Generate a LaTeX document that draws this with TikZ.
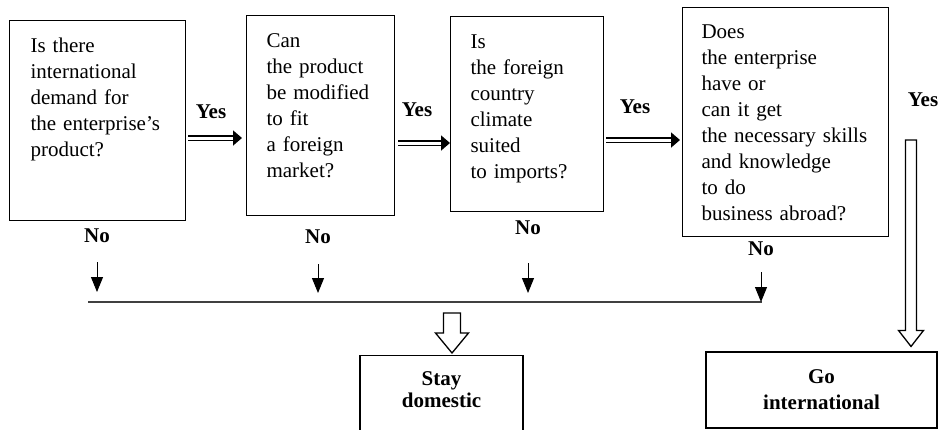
\documentclass[tikz,border=0pt]{standalone}
\usepackage{fontspec}
\setmainfont{Liberation Serif}
\usetikzlibrary{arrows.meta,calc,positioning}

\newcommand{\qsize}{\fontsize{21}{26}\selectfont}
% hollow block arrow: top point, tip point, shaft half width, head half width, head length
\newcommand{\hollowarrow}[5]{%
  \draw[line width=1.3pt, fill=white, line join=miter] let \p1=(#1), \p2=(#2) in
    (\x2-#3,\y1) -- (\x2+#3,\y1) -- (\x2+#3,\y2+#5) -- (\x2+#4,\y2+#5) -- (\x2,\y2)
    -- (\x2-#4,\y2+#5) -- (\x2-#3,\y2+#5) -- cycle;}

\begin{document}
\begin{tikzpicture}[
        x=1pt, y=-1pt,
        every node/.style={font=\qsize},
        qbox/.style={draw, line width=1.1pt, anchor=north west, align=left, inner ysep=0pt},
        endbox/.style={draw, line width=1.1pt, align=center},
        lbl/.style={font=\qsize\bfseries, inner sep=0pt},
        yesarrow/.style={double, double distance=3pt, line width=1.7pt, -{Triangle[length=9pt, width=15pt]}},
        noarrow/.style={line width=1pt, -{Triangle[length=15pt, width=12pt]}},
        bar/.style={line width=1.5pt, black!75},
    ]
        \useasboundingbox (0,0) rectangle (941,429);
        \clip (0,0) rectangle (941,429);

        % --- Questions ---
        \node[qbox, inner xsep=21pt, text width=134pt, text height=32pt, text depth=168pt] (demand) at (9,20)
            {Is there\\international\\demand for\\the enterprise’s\\product?};
        \node[qbox, inner xsep=20pt, text width=108pt, text height=32pt, text depth=168pt] (modify) at (246,15)
            {Can\\the product\\be modified\\to fit\\a foreign\\market?};
        \node[qbox, inner xsep=20pt, text width=113pt, text height=32pt, text depth=163pt] (climate) at (450,16)
            {Is\\the foreign\\country\\climate\\suited\\to imports?};
        \node[qbox, inner xsep=19pt, text width=168pt, text height=31pt, text depth=198pt] (skills) at (682,7)
            {Does\\the enterprise\\have or\\can it get\\the necessary skills\\and knowledge\\to do\\business abroad?};

        % --- Outcomes ---
        \node[endbox, anchor=north, minimum width=163pt, inner ysep=0pt, text height=52pt, text depth=48pt,
              font=\fontsize{21}{22}\selectfont\bfseries] (stay) at (441.5,355) {Stay\\domestic};
        \node[endbox, minimum width=231pt, minimum height=76pt,
              font=\fontsize{21}{26}\selectfont\bfseries] (go) at (821.5,390) {Go\\international};

        % --- Labels ---
        \node[lbl] (yesA) at (211,112) {Yes};
        \node[lbl] (yesB) at (417,110) {Yes};
        \node[lbl] (yesC) at (635,107) {Yes};
        \node[lbl] (yesD) at (923,100) {Yes};
        \node[lbl] (noA) at (97,236) {No};
        \node[lbl] (noB) at (318,237) {No};
        \node[lbl] (noC) at (528,228) {No};
        \node[lbl] (noD) at (761,249) {No};

        % --- Yes path ---
        \draw[yesarrow] ([xshift=2pt]demand.east |- 0,138) -- ([xshift=-4pt]modify.west |- 0,138);
        \draw[yesarrow] ([xshift=3pt]modify.east |- 0,143) -- (climate.west |- 0,143);
        \draw[yesarrow] ([xshift=2pt]climate.east |- 0,140) -- ([xshift=-2pt]skills.west |- 0,140);
        \coordinate (golink) at (911,140);
        \hollowarrow{golink}{$(golink |- go.north)+(0,-5)$}{5.5pt}{12.5pt}{16pt}

        % --- No path ---
        \coordinate (barL) at (88,302);
        \coordinate (barR) at (762,302);
        \draw[bar] (barL) -- (barR);
        \draw[noarrow] ([yshift=-19pt]noA.south) -- ([yshift=10pt]noA.south |- barL);
        \draw[noarrow] ([yshift=-20pt]noB.south) -- ([yshift=9pt]noB.south |- barL);
        \draw[noarrow] ([yshift=-28pt]noC.south) -- ([yshift=9pt]noC.south |- barL);
        \draw[noarrow] ([yshift=-16pt]noD.south) -- (noD.south |- barL);
        \coordinate (merge) at (452,313);
        \hollowarrow{merge}{$(merge |- stay.north)+(0,-2)$}{8.5pt}{16.5pt}{20pt}

    \end{tikzpicture}
\end{document}
